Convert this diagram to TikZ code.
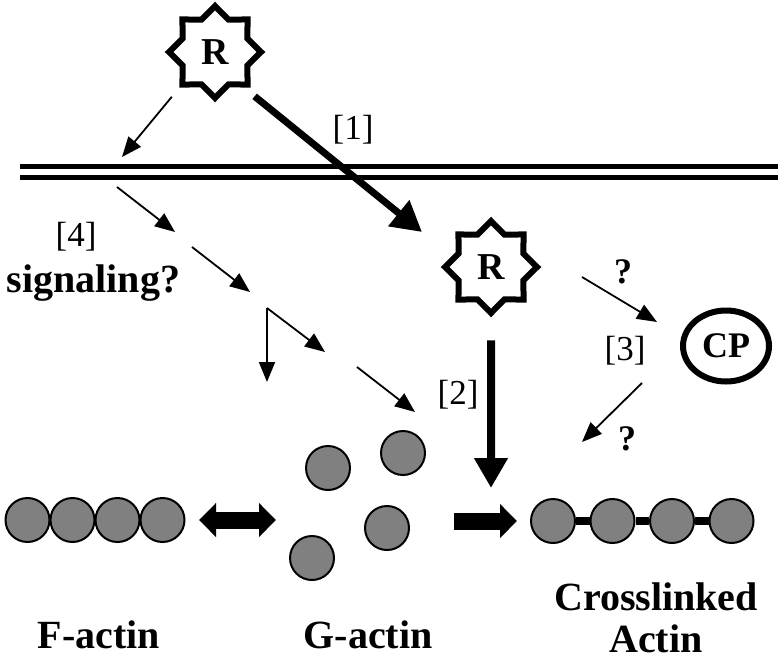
\documentclass[tikz,border=0pt]{standalone}
\usepackage{fontspec}
\setmainfont{Liberation Serif}
\usetikzlibrary{arrows.meta,positioning,shapes.geometric}

\definecolor{actingray}{RGB}{128,128,128}
\tikzset{
  actin/.style={circle, draw, line width=2pt, fill=actingray, minimum size=44pt, inner sep=0pt},
  receptor/.style={star, star points=8, star point ratio=1.31, draw, line width=6pt,
    minimum size=92pt, inner sep=0pt, font=\fontsize{38}{40}\selectfont\bfseries},
  thinarr/.style={-{Triangle[length=20pt,width=16pt]}, line width=1.8pt},
  bigarr/.style={-{Triangle[length=30pt,width=32pt]}, line width=7pt},
  fatarr/.style={-{Triangle[length=17pt,width=33pt]}, line width=17pt},
  fatdbl/.style={{Triangle[length=17pt,width=33pt]}-{Triangle[length=17pt,width=33pt]}, line width=17pt},
  tag/.style={font=\fontsize{35}{38}\selectfont, anchor=base},
  lbl/.style={font=\fontsize{40}{44}\selectfont\bfseries, anchor=base},
}

\begin{document}
\begin{tikzpicture}[x=1pt, y=-1pt]
    \useasboundingbox (0,0) rectangle (778,664);

    % membrane
    \draw[line width=5pt] (20,166) -- (778,166);
    \draw[line width=5pt] (20,177) -- (778,177);

    % receptors and capping protein
    \node[receptor] (rtop) at (215,52) {R};
    \node[receptor] (rin) at (491,267) {R};
    \node[draw, ellipse, line width=6pt, minimum width=86pt, minimum height=71pt,
          font=\fontsize{36}{38}\selectfont\bfseries] (cp) at (726,346) {CP};

    % F-actin
    \node[actin] (fa1) at (27.5,520) {};
    \node[actin] (fa2) at (72.5,520) {};
    \node[actin] (fa3) at (117.5,520) {};
    \node[actin] (fa4) at (162.5,520) {};

    % G-actin
    \node[actin] (ga1) at (328,468) {};
    \node[actin] (ga2) at (403,453) {};
    \node[actin] (ga3) at (387,528) {};
    \node[actin] (ga4) at (312,558) {};

    % crosslinked actin
    \node[actin] (ca1) at (553,521) {};
    \node[actin] (ca2) at (612.5,521) {};
    \node[actin] (ca3) at (672,521) {};
    \node[actin] (ca4) at (731.5,521) {};
    \draw[line width=8pt] (ca1.east) -- (ca2.west);
    \draw[line width=8pt] (ca2.east) -- (ca3.west);
    \draw[line width=8pt] (ca3.east) -- (ca4.west);

    % free arrow ends
    \coordinate (mem) at (122,157);
    \coordinate (rtip) at (422,232);
    \coordinate (dtip) at (491,488);
    \coordinate (s1a) at (117,187);  \coordinate (s1b) at (175,232);
    \coordinate (s2a) at (192,247);  \coordinate (s2b) at (250,292);
    \coordinate (fork) at (267,308);
    \coordinate (s3a) at (267,382);  \coordinate (s3b) at (325,352);
    \coordinate (s4a) at (357,367);  \coordinate (s4b) at (415,412);
    \coordinate (cpa) at (582,277);  \coordinate (cpb) at (657,322);
    \coordinate (cpc) at (642,383);  \coordinate (cpd) at (582,442);
    \coordinate (dla) at (199,520);  \coordinate (dlb) at (276,520);
    \coordinate (fra) at (454,521);  \coordinate (frb) at (517,521);

    % pathway [1] and [2]
    \draw[thinarr, shorten <=12pt] (rtop.-135) -- (mem);
    \draw[bigarr, shorten <=14pt] (rtop.-51) -- (rtip);
    \draw[bigarr, line width=8pt, shorten <=23pt] (rin.south) -- (dtip);

    % signaling cascade [4]
    \draw[thinarr] (s1a) -- (s1b);
    \draw[thinarr] (s2a) -- (s2b);
    \draw[thinarr] (fork) -- (s3a);
    \draw[thinarr] (fork) -- (s3b);
    \draw[thinarr] (s4a) -- (s4b);

    % capping protein [3]
    \draw[thinarr] (cpa) -- (cpb);
    \draw[thinarr] (cpc) -- (cpd);

    % actin transitions
    \draw[fatdbl] (dla) -- (dlb);
    \draw[fatarr] (fra) -- (frb);

    % labels
    \node[tag] (l1) at (353,139) {[1]};
    \node[tag] (l2) at (458,404) {[2]};
    \node[tag] (l3) at (625,360) {[3]};
    \node[tag] (l4) at (76,246) {[4]};
    \node[lbl] (sig) at (93.5,292) {signaling?};
    \node[lbl, font=\fontsize{36}{38}\selectfont\bfseries] (q1) at (623,283) {?};
    \node[lbl, font=\fontsize{36}{38}\selectfont\bfseries] (q2) at (627,450) {?};
    \node[lbl] (fl) at (99,648) {F-actin};
    \node[lbl] (gl) at (368,648) {G-actin};
    \node[lbl] (cl) at (656,610) {Crosslinked};
    \node[lbl] (al) at (656,652) {Actin};
\end{tikzpicture}
\end{document}
